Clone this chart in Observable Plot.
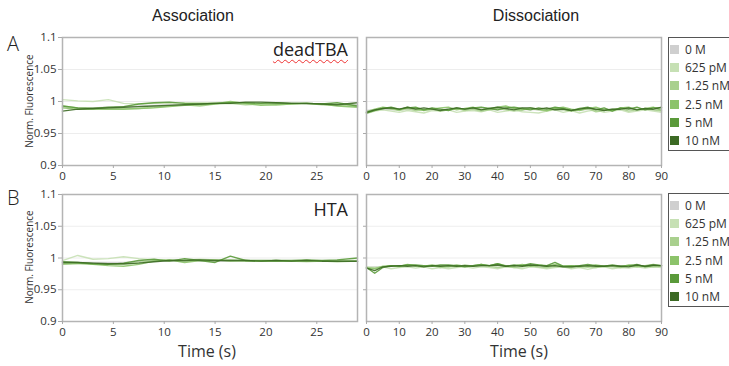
<!DOCTYPE html>
<html>
<head>
<meta charset="utf-8">
<script src="https://cdn.jsdelivr.net/npm/d3@7"></script>
<script src="https://cdn.jsdelivr.net/npm/@observablehq/plot@0.6"></script>
<style>
  html, body { margin: 0; padding: 0; background: #fff; }
  #root { position: relative; width: 729px; height: 366px; overflow: hidden; background: #fff; font-family: "Open Sans", sans-serif; color: #333; }
  .abs { position: absolute; white-space: nowrap; }
  .title { font-family: "Liberation Sans", Arial, sans-serif; font-size: 16px; color: #222; transform: translateX(-50%); }
  .letter { font-family: "Open Sans", sans-serif; font-size: 20px; color: #222; font-weight: 300; }
  .ylab { font-size: 10px; color: #333; transform: translate(-50%, -50%) rotate(-90deg); }
  .xlab { font-size: 16px; color: #333; transform: translateX(-50%); }
  .tag { font-size: 18px; color: #222; transform: translateX(-100%); }
  .wavy { text-decoration: underline wavy #e33; text-decoration-thickness: 1px; text-underline-offset: 3px; }
  .legend { position: absolute; border: 1.5px solid #555; background: #fff; width: 72px; box-sizing: border-box; padding: 2px 0 0 0; }
  .legend .row { display: flex; align-items: center; height: 18.3px; font-size: 12px; color: #333; }
  .legend .sw { width: 9px; height: 9px; margin: 0 6px 0 1px; flex: none; }
  svg { position: absolute; overflow: visible; }
</style>
</head>
<body>
<div id="root"></div>
<script>
// ---- Data ----
const series = ["0 M", "625 pM", "1.25 nM", "2.5 nM", "5 nM", "10 nM"];
const seriesColors = ["#cfcfcf", "#c6e0b4", "#a9d08e", "#8cc36a", "#5a9a3a", "#3c6a24"];

const assocTime = [0, 1.5, 3, 4.5, 6, 7.5, 9, 10.5, 12, 13.5, 15, 16.5, 18, 19.5, 21, 22.5, 24, 25.5, 27, 29];
const dissTime = [0, 2.5, 5, 7.5, 10, 12.5, 15, 17.5, 20, 22.5, 25, 27.5, 30, 32.5, 35, 37.5, 40, 42.5, 45, 47.5,
  50, 52.5, 55, 57.5, 60, 62.5, 65, 67.5, 70, 72.5, 75, 77.5, 80, 82.5, 85, 87.5, 90];

const assocTicks = [0, 5, 10, 15, 20, 25];
const dissTicks = [0, 10, 20, 30, 40, 50, 60, 70, 80, 90];
const yTicks = [0.9, 0.95, 1, 1.05, 1.1];
const yTickLabels = ["0.9", "0.95", "1", "1.05", "1.1"];

// Panel A (deadTBA) – association
const assocA_0M   = [0.991,0.990,0.990,0.991,0.992, 0.993,0.994,0.995,0.996,0.996, 0.997,0.997,0.997,0.997,0.997, 0.997,0.996,0.996,0.995,0.995];
const assocA_625  = [1.003,1.001,1.000,1.003,0.997, 0.996,0.997,0.997,0.998,0.998, 0.998,0.999,0.998,0.997,0.997, 0.997,0.997,0.996,0.995,0.994];
const assocA_1p25 = [0.993,0.990,0.989,0.989,0.989, 0.989,0.991,0.993,0.995,0.993, 0.996,0.997,0.995,0.996,0.995, 0.996,0.997,0.995,0.994,0.992];
const assocA_2p5  = [0.990,0.988,0.988,0.988,0.988, 0.989,0.990,0.992,0.994,0.995, 0.996,1.000,0.997,0.994,0.995, 0.996,0.997,0.996,0.993,0.991];
const assocA_5    = [0.993,0.990,0.989,0.991,0.992, 0.996,0.998,0.999,0.997,0.996, 0.997,0.998,0.998,0.997,0.998, 0.997,0.997,0.996,0.998,0.993];
const assocA_10   = [0.985,0.988,0.989,0.990,0.991, 0.992,0.993,0.994,0.995,0.996, 0.997,0.997,0.999,0.999,0.998, 0.997,0.997,0.996,0.995,0.998];

// Panel A (deadTBA) – dissociation
const dissA_0M   = [0.986,0.987,0.988,0.987,0.988, 0.987,0.988,0.987,0.987,0.988, 0.987,0.988,0.988,0.987,0.988, 0.988,0.987,0.988,0.988,0.987, 0.988,0.987,0.988,0.987,0.988, 0.987,0.987,0.988,0.987,0.988, 0.987,0.987,0.988,0.987,0.988, 0.987,0.987];
const dissA_625  = [0.981,0.985,0.987,0.985,0.983, 0.986,0.984,0.982,0.986,0.985, 0.987,0.983,0.985,0.986,0.984, 0.987,0.983,0.985,0.987,0.984, 0.983,0.982,0.985,0.987,0.983, 0.986,0.982,0.985,0.987,0.983, 0.985,0.987,0.983,0.985,0.987, 0.985,0.983];
const dissA_1p25 = [0.983,0.987,0.990,0.988,0.986, 0.989,0.986,0.987,0.989,0.985, 0.987,0.989,0.986,0.988,0.985, 0.987,0.989,0.987,0.985,0.987, 0.989,0.987,0.985,0.989,0.987, 0.985,0.987,0.989,0.984,0.986, 0.988,0.989,0.985,0.987,0.989, 0.987,0.985];
const dissA_2p5  = [0.984,0.988,0.991,0.989,0.987, 0.991,0.989,0.986,0.988,0.990, 0.991,0.987,0.989,0.991,0.987, 0.989,0.991,0.993,0.989,0.987, 0.990,0.988,0.986,0.989,0.991, 0.988,0.986,0.989,0.991,0.987, 0.986,0.990,0.991,0.987,0.989, 0.991,0.986];
const dissA_5    = [0.982,0.986,0.989,0.991,0.988, 0.990,0.991,0.987,0.990,0.988, 0.986,0.990,0.988,0.990,0.991, 0.989,0.987,0.990,0.991,0.989, 0.987,0.990,0.988,0.991,0.989, 0.986,0.989,0.991,0.987,0.990, 0.985,0.990,0.988,0.991,0.987, 0.990,0.990];
const dissA_10   = [0.983,0.987,0.989,0.990,0.988, 0.991,0.988,0.990,0.988,0.986, 0.988,0.990,0.988,0.990,0.987, 0.989,0.991,0.989,0.987,0.990, 0.990,0.988,0.990,0.987,0.988, 0.986,0.988,0.990,0.988,0.986, 0.988,0.988,0.990,0.987,0.989, 0.988,0.991];

// Panel B (HTA) – association
const assocB_0M   = [0.993,0.993,0.993,0.993,0.993, 0.994,0.995,0.995,0.995,0.995, 0.995,0.995,0.995,0.995,0.995, 0.995,0.995,0.995,0.995,0.995];
const assocB_625  = [0.996,1.004,0.998,0.999,1.002, 0.999,0.997,0.996,0.997,0.998, 0.997,0.996,0.995,0.995,0.996, 0.995,0.994,0.995,0.996,0.996];
const assocB_1p25 = [0.990,0.991,0.991,0.990,0.990, 0.993,0.996,0.997,0.995,0.997, 0.996,0.997,0.996,0.995,0.996, 0.995,0.996,0.995,0.994,0.995];
const assocB_2p5  = [0.991,0.992,0.990,0.988,0.987, 0.990,0.995,0.997,0.993,0.996, 0.997,0.995,0.996,0.995,0.995, 0.995,0.995,0.995,0.995,0.995];
const assocB_5    = [0.994,0.993,0.991,0.990,0.992, 0.996,0.998,0.995,0.999,0.996, 0.993,1.003,0.996,0.996,0.996, 0.996,0.997,0.996,0.997,1.000];
const assocB_10   = [0.993,0.993,0.992,0.991,0.991, 0.992,0.994,0.996,0.996,0.997, 0.996,0.996,0.996,0.995,0.996, 0.995,0.996,0.995,0.995,0.995];

// Panel B (HTA) – dissociation
const dissB_0M   = [0.985,0.986,0.986,0.987,0.987, 0.987,0.987,0.987,0.987,0.987, 0.987,0.987,0.988,0.988,0.988, 0.988,0.988,0.988,0.988,0.988, 0.988,0.988,0.988,0.988,0.987, 0.987,0.987,0.987,0.987,0.987, 0.987,0.987,0.987,0.987,0.987, 0.987,0.987];
const dissB_625  = [0.986,0.985,0.986,0.983,0.985, 0.986,0.984,0.986,0.983,0.985, 0.983,0.985,0.986,0.984,0.986, 0.985,0.983,0.986,0.985,0.983, 0.986,0.985,0.983,0.985,0.986, 0.983,0.985,0.982,0.985,0.986, 0.983,0.985,0.984,0.986,0.984, 0.986,0.985];
const dissB_1p25 = [0.985,0.984,0.986,0.988,0.986, 0.989,0.987,0.986,0.988,0.985, 0.987,0.986,0.989,0.987,0.988, 0.987,0.985,0.987,0.985,0.986, 0.988,0.986,0.985,0.987,0.986, 0.985,0.988,0.986,0.985,0.987, 0.986,0.985,0.988,0.986,0.987, 0.986,0.987];
const dissB_2p5  = [0.984,0.983,0.987,0.988,0.987, 0.990,0.988,0.987,0.989,0.987, 0.986,0.989,0.987,0.988,0.990, 0.988,0.991,0.988,0.987,0.990, 0.987,0.989,0.987,0.990,0.987, 0.988,0.986,0.986,0.989,0.987, 0.988,0.986,0.989,0.987,0.988, 0.990,0.988];
const dissB_5    = [0.985,0.976,0.985,0.988,0.987, 0.989,0.989,0.988,0.987,0.989, 0.989,0.988,0.986,0.988,0.990, 0.988,0.991,0.987,0.989,0.988, 0.991,0.989,0.988,0.993,0.987, 0.987,0.988,0.990,0.988,0.987, 0.989,0.987,0.988,0.990,0.986, 0.988,0.988];
const dissB_10   = [0.984,0.980,0.986,0.987,0.988, 0.987,0.988,0.986,0.988,0.987, 0.988,0.987,0.988,0.987,0.988, 0.988,0.989,0.987,0.988,0.987, 0.989,0.988,0.987,0.988,0.986, 0.986,0.987,0.988,0.987,0.987, 0.988,0.987,0.986,0.989,0.987, 0.989,0.988];

// ---- Build tables ----
function table(time, arrays) {
  const rows = [];
  arrays.forEach((vals, si) => {
    vals.forEach((v, i) => { if (i < time.length) rows.push({t: time[i], v, s: series[si]}); });
  });
  return rows;
}
const assocA = table(assocTime, [assocA_0M, assocA_625, assocA_1p25, assocA_2p5, assocA_5, assocA_10]);
const dissA  = table(dissTime,  [dissA_0M, dissA_625, dissA_1p25, dissA_2p5, dissA_5, dissA_10]);
const assocB = table(assocTime, [assocB_0M, assocB_625, assocB_1p25, assocB_2p5, assocB_5, assocB_10]);
const dissB  = table(dissTime,  [dissB_0M, dissB_625, dissB_1p25, dissB_2p5, dissB_5, dissB_10]);

const root = document.getElementById("root");

function panel(data, {left, top, width, height, mL, mR, mT, mB, xDomain, xTicks, yLabels}) {
  const svg = Plot.plot({
    width, height,
    marginLeft: mL, marginRight: mR, marginTop: mT, marginBottom: mB,
    style: {fontFamily: "'Open Sans', sans-serif", fontSize: "11.5px", color: "#333", background: "transparent", overflow: "visible"},
    x: {domain: xDomain},
    y: {domain: [0.9, 1.1]},
    color: {domain: series, range: seriesColors},
    marks: [
      Plot.gridY([0.95, 1, 1.05], {stroke: "#000", strokeOpacity: 0.07}),
      Plot.line(data, {x: "t", y: "v", z: "s", stroke: "s", strokeWidth: 1.4, strokeOpacity: 0.9}),
      Plot.frame({stroke: "#b4b4b4", strokeWidth: 1.5}),
      Plot.axisX(xTicks, {tickSize: 3, tickPadding: 3, stroke: "#aaa", fill: "#333", label: null, tickFormat: d => String(d)}),
      yLabels
        ? Plot.axisY(yTicks, {tickSize: 4, tickPadding: 2, stroke: "#aaa", fill: "#333", label: null, tickFormat: d => yTickLabels[yTicks.indexOf(d)]})
        : Plot.axisY([0.95, 1, 1.05], {tickSize: 3, stroke: "#aaa", label: null, tickFormat: () => ""})
    ]
  });
  svg.style.left = left + "px";
  svg.style.top = top + "px";
  root.appendChild(svg);
}

panel(assocA, {left: 0, top: 0, width: 360, height: 190, mL: 62, mR: 3, mT: 37, mB: 25, xDomain: [0, 29], xTicks: assocTicks, yLabels: true});
panel(dissA,  {left: 355, top: 0, width: 310, height: 190, mL: 11, mR: 4, mT: 37, mB: 25, xDomain: [0, 90], xTicks: dissTicks, yLabels: false});
panel(assocB, {left: 0, top: 180, width: 360, height: 186, mL: 62, mR: 3, mT: 14, mB: 45, xDomain: [0, 29], xTicks: assocTicks, yLabels: true});
panel(dissB,  {left: 355, top: 180, width: 310, height: 186, mL: 11, mR: 4, mT: 14, mB: 45, xDomain: [0, 90], xTicks: dissTicks, yLabels: false});

function addText(text, cls, x, y, extraHTML) {
  const d = document.createElement("div");
  d.className = "abs " + cls;
  d.style.left = x + "px";
  d.style.top = y + "px";
  if (extraHTML) d.innerHTML = extraHTML; else d.textContent = text;
  root.appendChild(d);
  return d;
}

addText("Association", "title", 193, 7);
addText("Dissociation", "title", 536, 7);
addText("A", "letter", 7, 30);
addText("B", "letter", 7, 184);
addText("Norm. Fluorescence", "ylab", 29, 101);
addText("Norm. Fluorescence", "ylab", 29, 257);
addText("Time (s)", "xlab", 207, 340);
addText("Time (s)", "xlab", 519, 340);
addText("", "tag", 348, 37, '<span class="wavy">deadTBA</span>');
addText("HTA", "tag", 348, 197);

function legend(top) {
  const box = document.createElement("div");
  box.className = "legend";
  box.style.left = "668px";
  box.style.top = top + "px";
  series.forEach((name, i) => {
    const row = document.createElement("div");
    row.className = "row";
    const sw = document.createElement("div");
    sw.className = "sw";
    sw.style.background = seriesColors[i];
    const lab = document.createElement("span");
    lab.textContent = name;
    row.appendChild(sw);
    row.appendChild(lab);
    box.appendChild(row);
  });
  root.appendChild(box);
}
legend(37);
legend(193);
</script>
</body>
</html>
